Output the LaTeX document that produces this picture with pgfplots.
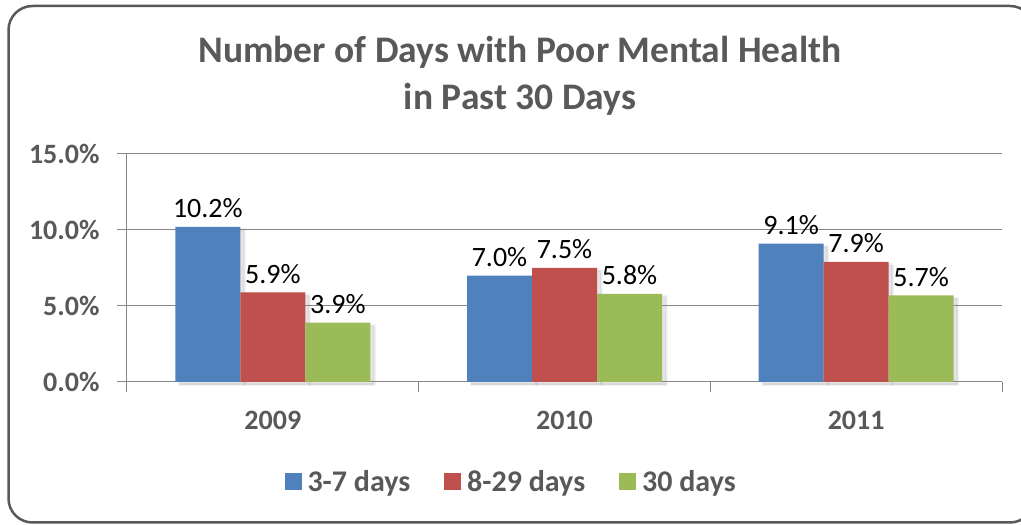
\documentclass[border=0pt]{standalone}
\usepackage{fontspec}
\setmainfont{Carlito}
\usepackage{pgfplots}
\pgfplotsset{compat=1.18}
\definecolor{txtgray}{HTML}{595959}
\definecolor{gridgray}{HTML}{868686}
\definecolor{cblue}{HTML}{4F81BD}
\definecolor{cred}{HTML}{C0504D}
\definecolor{cgreen}{HTML}{9BBB59}
\pgfplotsset{basebars/.style={
  width=875pt, height=228pt, scale only axis,
  ymin=0, ymax=15, xmin=-0.5, xmax=2.5,
  ybar=0pt, bar width=65pt}}
\begin{document}
\begin{tikzpicture}[x=1pt,y=1pt]
\useasboundingbox (0,0) rectangle (1021,525);
\begin{scope}
\clip (0,0) rectangle (1021,525);
\draw[line width=2.5pt, draw=txtgray, rounded corners=24pt] (8.5,2.5) rectangle (1034,519);
\end{scope}
% soft shadow layer
\begin{axis}[basebars, at={(131pt,140pt)}, anchor=south west, axis lines=none, clip=false, xtick=\empty, ytick=\empty]
\addplot[fill=black, fill opacity=0.10, draw=black, draw opacity=0.05, line width=3pt] coordinates {(0,10.2) (1,7.0) (2,9.1)};
\addplot[fill=black, fill opacity=0.10, draw=black, draw opacity=0.05, line width=3pt] coordinates {(0,5.9) (1,7.5) (2,7.9)};
\addplot[fill=black, fill opacity=0.10, draw=black, draw opacity=0.05, line width=3pt] coordinates {(0,3.9) (1,5.8) (2,5.7)};
\end{axis}
\begin{axis}[basebars,
  at={(127pt,143pt)}, anchor=south west,
  axis lines*=left,
  axis line style={draw=gridgray, line width=1pt},
  ymajorgrids, grid style={draw=gridgray, line width=1pt},
  ytick={0,5,10,15}, yticklabels={0.0\%,5.0\%,10.0\%,15.0\%},
  xtick={-0.5,0.5,1.5,2.5}, xticklabels={},
  extra x ticks={0,1,2}, extra x tick labels={2009,2010,2011},
  extra x tick style={grid=none, major tick length=0pt},
  tick style={draw=gridgray, line width=1pt},
  tick align=outside, major tick length=10pt,
  ticklabel style={font=\bfseries\fontsize{28}{28}\selectfont, text=txtgray},
  yticklabel style={xshift=-14pt},
  xticklabel style={yshift=-26pt},
  nodes near coords={\pgfmathprintnumber[fixed,fixed zerofill,precision=1]{\pgfplotspointmeta}\%},
  every node near coord/.append style={font=\fontsize{28}{28}\selectfont, text=black, anchor=base, yshift=9pt},
  /pgf/number format/assume math mode=true,
  legend style={at={(0.439,-0.4386)}, anchor=center, draw=none, fill=none,
    legend columns=-1, font=\bfseries\fontsize{30}{30}\selectfont, text=txtgray,
    /tikz/every even column/.append style={column sep=32pt},
    /tikz/every odd column/.append style={column sep=4pt}},
  legend image code/.code={\fill[#1] (0pt,-8.5pt) rectangle (17pt,8.5pt);},
]
\addplot[fill=cblue, draw=none] coordinates {(0,10.2) (1,7.0) (2,9.1)};
\addplot[fill=cred, draw=none] coordinates {(0,5.9) (1,7.5) (2,7.9)};
\addplot[fill=cgreen, draw=none] coordinates {(0,3.9) (1,5.8) (2,5.7)};
\legend{3-7 days, 8-29 days, 30 days}
\end{axis}
\node[anchor=base, font=\bfseries\fontsize{37.5}{37.5}\selectfont, text=txtgray] at (520,462) {Number of Days with Poor Mental Health};
\node[anchor=base, font=\bfseries\fontsize{37.5}{37.5}\selectfont, text=txtgray] at (520,415) {in Past 30 Days};
\end{tikzpicture}
\end{document}
